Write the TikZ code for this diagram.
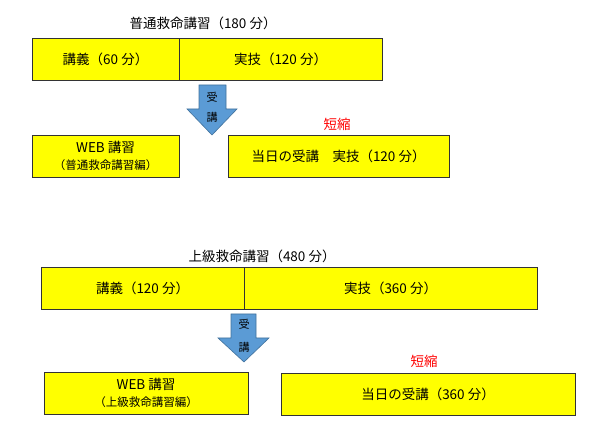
\documentclass[tikz,border=0pt]{standalone}
\usepackage{fontspec}
\setmainfont{Noto Sans CJK JP}
\usetikzlibrary{positioning}
\definecolor{boxyellow}{RGB}{255,255,0}
\definecolor{arrowblue}{RGB}{91,155,213}
\definecolor{arrowedge}{RGB}{65,113,156}
\tikzset{part box/.style={draw=black!80,fill=boxyellow,line width=0.8pt,minimum height=42pt,inner sep=0pt,outer sep=0pt,align=center,font=\fontsize{13.5}{17}\selectfont},
	head text/.style={font=\fontsize{13.5}{15}\selectfont},
	cut text/.style={text=red,font=\fontsize{13.5}{15}\selectfont},
	arrow text/.style={font=\fontsize{11}{12}\selectfont},
	block arrow/.style={fill=arrowblue,draw=arrowedge,line width=0.6pt},
}
\newcommand{\subline}[1]{{\fontsize{11.5}{13}\selectfont #1}}

\begin{document}
\begin{tikzpicture}[x=1pt,y=-1pt]
	\useasboundingbox (0,0) rectangle (600,427);
	% basic course
	\node[head text] (title1) at (203,23) {普通救命講習（180 分）};
	\node[part box,minimum width=147pt,anchor=north west] (lec1) at (32,38) {講義（60 分）};
	\node[part box,minimum width=203pt] (prac1) [right = 0pt of lec1] {実技（120 分）};
	\path[block arrow] (199,85) -- (226,85) -- (226,109) -- (237,109) -- (212,135) -- (187,109) -- (199,109) -- cycle;
	\node[arrow text] (take1a) at (212,97) {受};
	\node[arrow text] (take1b) at (212,117) {講};
	\node[part box,minimum width=147pt,anchor=north west] (web1) at (32,135) {WEB 講習\\\subline{（普通救命講習編）}};
	\node[part box,minimum width=221pt,anchor=north west] (day1) at (228,135) {当日の受講　実技（120 分）};
	\node[cut text] (short1) at (337,124) {短縮};
	
	% advanced course
	\node[head text] (title2) at (262,256) {上級救命講習（480 分）};
	\node[part box,minimum width=203pt,anchor=north west] (lec2) at (41,267) {講義（120 分）};
	\node[part box,minimum width=293pt] (prac2) [right = 0pt of lec2] {実技（360 分）};
	\path[block arrow] (231,314) -- (256,314) -- (256,338) -- (269,338) -- (244,362) -- (218,338) -- (231,338) -- cycle;
	\node[arrow text] (take2a) at (244,324) {受};
	\node[arrow text] (take2b) at (244,347) {講};
	\node[part box,minimum width=204pt,anchor=north west] (web2) at (44,372) {WEB 講習\\\subline{（上級救命講習編）}};
	\node[part box,minimum width=294pt,anchor=north west] (day2) at (281,373) {当日の受講（360 分）};
	\node[cut text] (short2) at (424,361) {短縮};
\end{tikzpicture}
\end{document}
